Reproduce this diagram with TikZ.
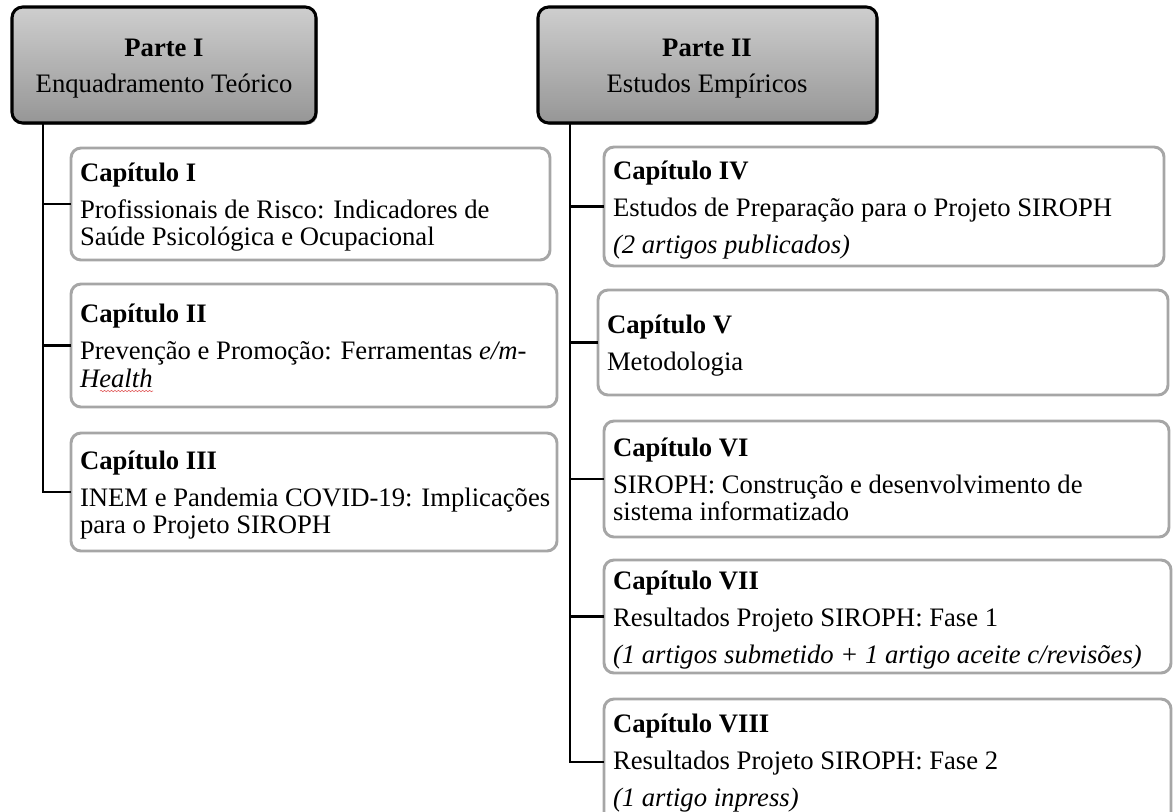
\documentclass[tikz,border=0pt]{standalone}
\usepackage{fontspec}
\setmainfont{Liberation Serif}
\usetikzlibrary{fit,decorations.pathmorphing,shadows}
\definecolor{partetop}{RGB}{206,206,206}
\definecolor{partebot}{RGB}{150,150,150}
\definecolor{chapline}{RGB}{166,166,166}
\definecolor{spellred}{RGB}{225,90,90}
\begin{document}
% multi-line text nodes are placed by the baseline of their last line
\begin{tikzpicture}[x=0.75pt,y=-0.75pt,
  every node/.style={inner sep=0pt, outer sep=0pt},
  parte/.style={draw=black, line width=2.3pt, rounded corners=8pt,
    top color=partetop, bottom color=partebot,
    drop shadow={shadow xshift=1.2pt, shadow yshift=-1.2pt, opacity=0.45, fill=black}},
  chap/.style={draw=chapline, line width=2.2pt, rounded corners=7.5pt, fill=white},
  txt/.style={font=\fontsize{20pt}{20.625pt}\selectfont, align=left, anchor=base west},
  ptxt/.style={font=\fontsize{20pt}{27pt}\selectfont, align=center, anchor=base},
  conn/.style={draw=black, line width=2pt}
]
\useasboundingbox (0,0) rectangle (1173,811);
\clip (0,0) rectangle (1173,811);

% part headers
\node[parte, fit={(12,7) (316,123)}] (p1) {};
\node[ptxt] (p1t) at (164,92) {\textbf{Parte I}\\Enquadramento Teórico};
\node[parte, fit={(538,7) (877,123)}] (p2) {};
\node[ptxt] (p2t) at (707,92) {\textbf{Parte II}\\Estudos Empíricos};

% tree spines
\coordinate (lx) at (43,0);
\coordinate (rx) at (570,0);

% chapters of part I
\node[chap, fit={(71,148) (550,260)}] (c1) {};
\node[chap, fit={(71,284) (557,407)}] (c2) {};
\node[chap, fit={(71,433) (557,551)}] (c3) {};

% chapters of part II
\node[chap, fit={(604,147) (1164,266)}] (c4) {};
\node[chap, fit={(598,290) (1168,395)}] (c5) {};
\node[chap, fit={(604,421) (1169,537)}] (c6) {};
\node[chap, fit={(604,560) (1171,673)}] (c7) {};
\node[chap, fit={(604,699) (1171,825)}] (c8) {};

% connectors
\draw[conn] (p1.south -| lx) |- (c3.west);
\draw[conn] (c1.west -| lx) -- (c1.west);
\draw[conn] (c2.west -| lx) -- (c2.west);
\draw[conn] (p2.south -| rx) |- (c8.west);
\draw[conn] (c4.west -| rx) -- (c4.west);
\draw[conn] (c5.west -| rx) -- (c5.west);
\draw[conn] (c6.west -| rx) -- (c6.west);
\draw[conn] (c7.west -| rx) -- (c7.west);

% chapter texts
\node[txt] (c1t) at (80,245.5) {\textbf{Capítulo I}\\[7.1pt]
  Profissionais de Risco: Indicadores de\\
  Saúde Psicológica e Ocupacional};
\node[txt] (c2t) at (80,387) {\textbf{Capítulo II}\\[7.1pt]
  Prevenção e Promoção: Ferramentas \textit{e/m-}\\
  \textit{Health}};
\node[txt] (c3t) at (80,533.5) {\textbf{Capítulo III}\\[7.1pt]
  INEM e Pandemia COVID-19: Implicações\\
  para o Projeto SIROPH};
\node[txt] (c4t) at (613,253) {\textbf{Capítulo IV}\\[7.1pt]
  Estudos de Preparação para o Projeto SIROPH\\[7.1pt]
  \textit{(2 artigos publicados)}};
\node[txt] (c5t) at (607,370) {\textbf{Capítulo V}\\[7.1pt]
  Metodologia};
\node[txt] (c6t) at (613,520.5) {\textbf{Capítulo VI}\\[7.1pt]
  SIROPH: Construção e desenvolvimento de\\
  sistema informatizado};
\node[txt] (c7t) at (613,663) {\textbf{Capítulo VII}\\[7.1pt]
  Resultados Projeto SIROPH: Fase 1\\[7.1pt]
  \textit{(1 artigos submetido + 1 artigo aceite c/revisões)}};
\node[txt] (c8t) at (613,806) {\textbf{Capítulo VIII}\\[7.1pt]
  Resultados Projeto SIROPH: Fase 2\\[7.1pt]
  \textit{(1 artigo inpress)}};

% spell-check squiggle under "Health"
\draw[spellred, line width=0.45pt, decorate,
  decoration={snake, amplitude=0.5pt, segment length=2.6pt}]
  (100,391) -- (153,391);
\end{tikzpicture}
\end{document}
